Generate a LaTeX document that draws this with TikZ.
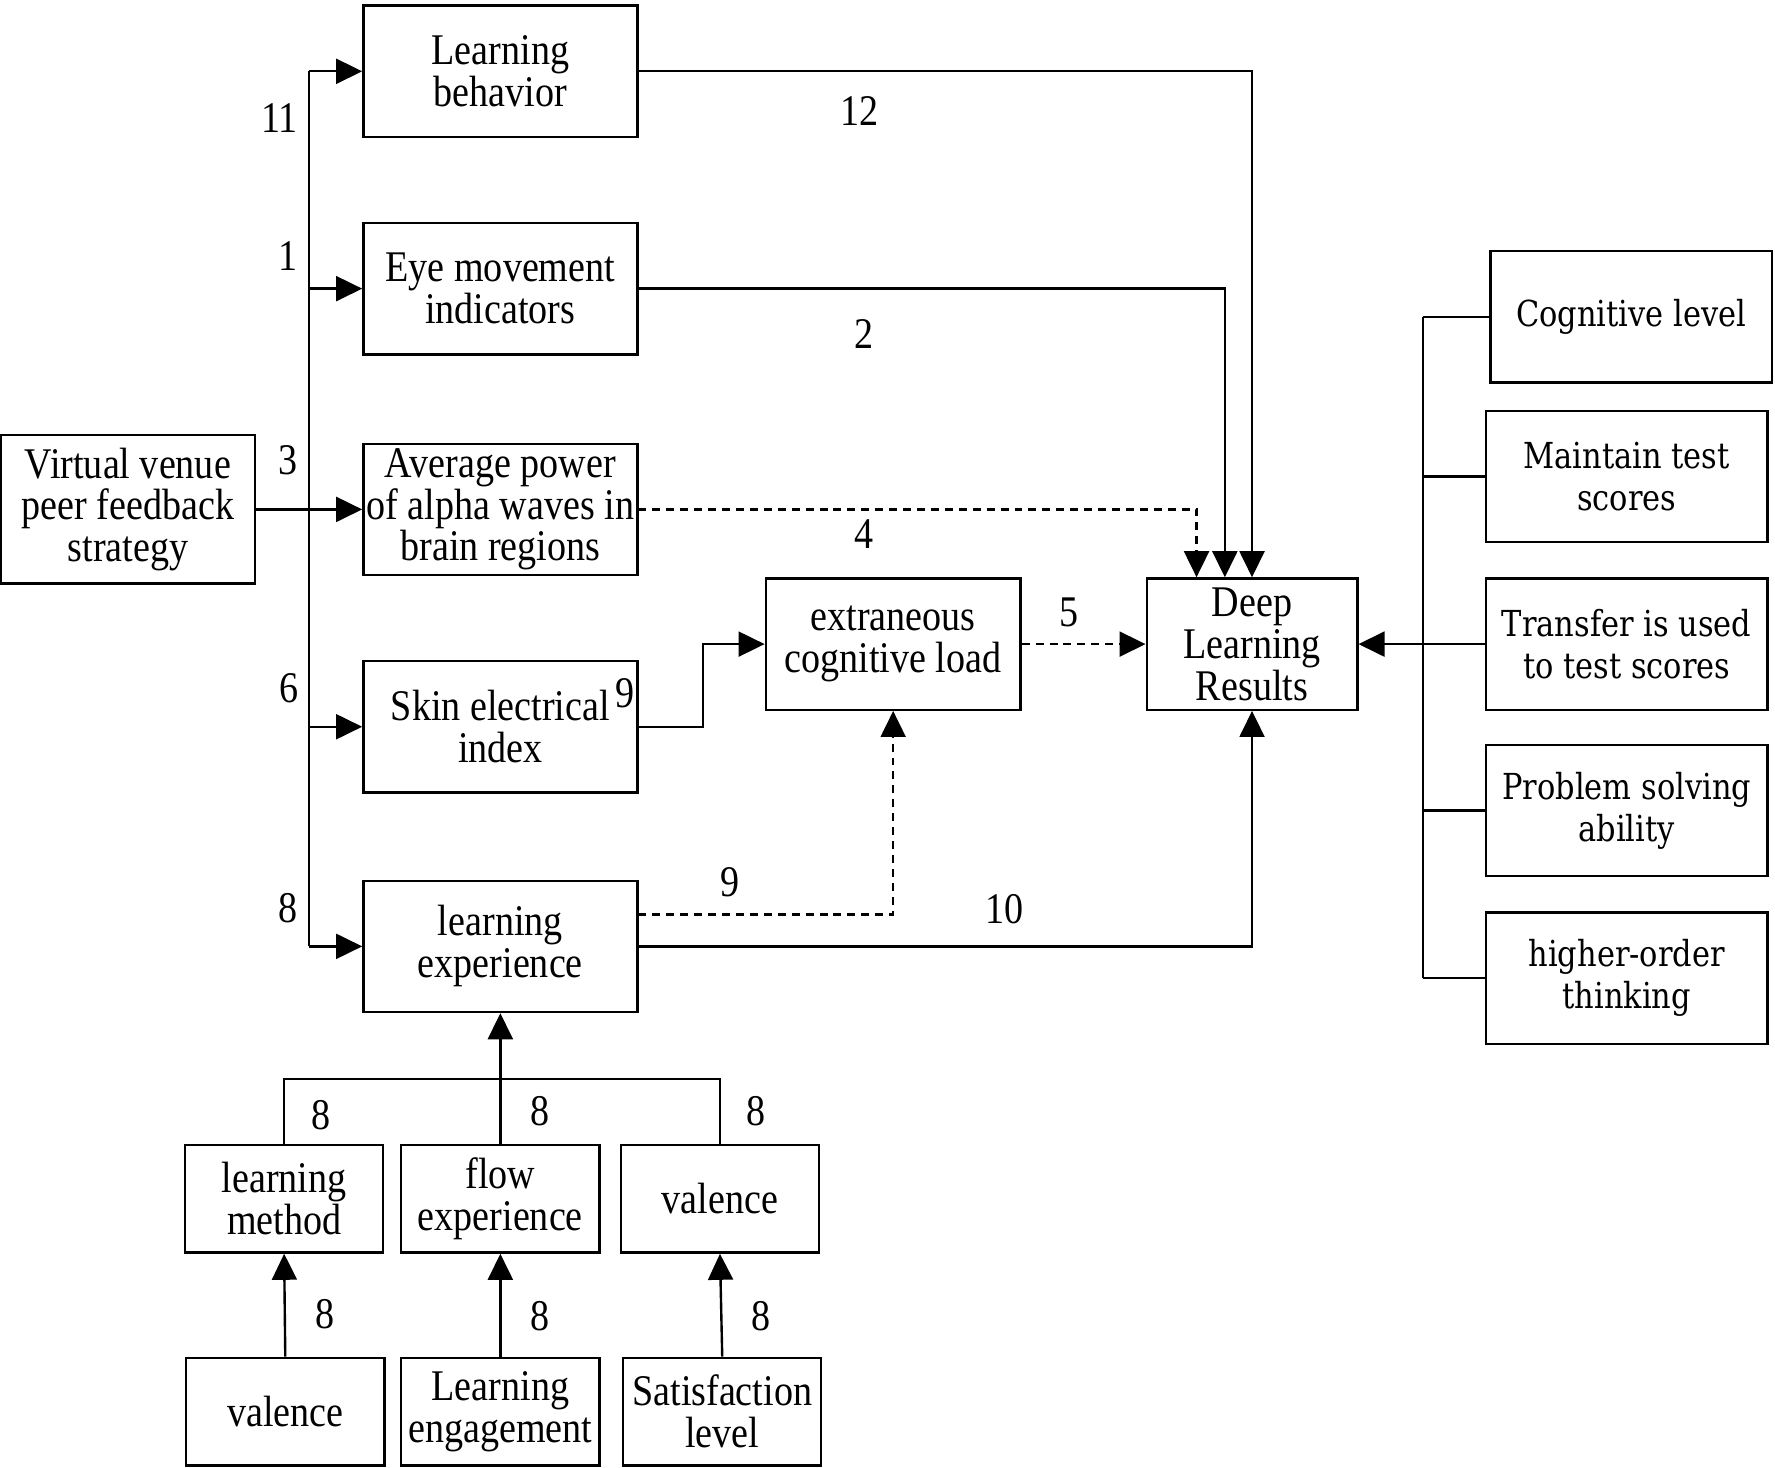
\documentclass[tikz,border=0pt]{standalone}
\usepackage{fontspec}
\setmainfont[FakeStretch=0.87]{Liberation Serif}
\newfontfamily\widefont[FakeStretch=0.85]{DejaVu Serif}
\usetikzlibrary{arrows.meta}
\tikzstyle{bx}=[draw=black,align=center,inner sep=0pt,minimum width=2.42cm,minimum height=1.16cm]
\tikzstyle{rbx}=[bx,minimum width=2.49cm,font=\widefont\fontsize{9}{10.5}\selectfont]
\tikzstyle{sbx}=[bx,minimum width=1.75cm,minimum height=.95cm]
\tikzstyle{arr}=[-{Triangle[length=2.3mm,width=2.2mm]}]
\tikzstyle{dsh}=[dash pattern=on 2pt off 1.5pt]

\begin{document}
\begin{tikzpicture}[line width=.6pt,font=\fontsize{11}{10.5}\selectfont]
\useasboundingbox (0,0) rectangle (15.68,12.96);
\node[bx,minimum width=2.24cm,minimum height=1.31cm] (vv) at (1.13,8.46) {Virtual venue\\peer feedback\\strategy};
\node[bx] (lb) at (4.42,12.33) {Learning\\behavior};
\node[bx] (eye) at (4.42,10.41) {Eye movement\\indicators};
\node[bx] (avg) at (4.42,8.46) {Average power\\of alpha waves in\\brain regions};
\node[bx] (skin) at (4.42,6.54) {Skin electrical\\index};
\node[bx] (le) at (4.42,4.60) {learning\\experience};
\node[bx,minimum width=2.25cm] (ecl) at (7.89,7.27) {extraneous\\cognitive load};
\node[bx,minimum width=1.86cm] (dlr) at (11.06,7.27) {Deep\\Learning\\Results};
\node[rbx] (cog) at (14.41,10.16) {Cognitive level};
\node[rbx] (mts) at (14.37,8.75) {Maintain test\\scores};
\node[rbx] (tr) at (14.37,7.27) {Transfer is used\\to test scores};
\node[rbx] (psa) at (14.37,5.80) {Problem solving\\ability};
\node[rbx] (hot) at (14.37,4.32) {higher-order\\thinking};
\node[sbx] (lm) at (2.51,2.37) {learning\\method};
\node[sbx] (fe) at (4.42,2.37) {flow\\experience};
\node[sbx] (va) at (6.36,2.37) {valence};
\node[sbx] (va2) at (2.52,.49) {valence};
\node[sbx] (eng) at (4.42,.49) {Learning\\engagement};
\node[sbx] (sat) at (6.38,.49) {Satisfaction\\level};
\coordinate (bus) at (2.73,0);
\coordinate (rbus) at (12.57,0);
\coordinate (bb) at (0,3.43);
% left bus
\draw (bus |- lb.west) -- (bus |- le.west);
\draw[arr] (vv.east) -- (avg.west);
\draw[arr] (bus |- lb.west) -- (lb.west);
\draw[arr] (bus |- eye.west) -- (eye.west);
\draw[arr] (bus |- skin.west) -- (skin.west);
\draw[arr] (bus |- le.west) -- (le.west);
% to deep learning results
\draw[arr] (lb.east) -| (dlr.north);
\draw[arr] (eye.east) -| ([xshift=-2.4mm]dlr.north);
\draw[arr,dsh] (avg.east) -| ([xshift=-4.9mm]dlr.north);
\draw[arr] (skin.east) -- ++(.57,0) |- (ecl.west);
\draw[arr,dsh] (ecl.east) -- (dlr.west);
\draw[arr,dsh] ([yshift=2.8mm]le.east) -| (ecl.south);
\draw[arr] (le.east) -| (dlr.south);
% right bus
\draw (rbus |- cog.west) -- (rbus |- hot.west);
\draw (rbus |- cog.west) -- (cog.west);
\draw (rbus |- mts.west) -- (mts.west);
\draw (rbus |- tr.west) -- (tr.west);
\draw (rbus |- psa.west) -- (psa.west);
\draw (rbus |- hot.west) -- (hot.west);
\draw[arr] (rbus |- tr.west) -- (dlr.east);
% bottom
\draw (lm.north) -- (lm.north |- bb) -- (va.north |- bb) -- (va.north);
\draw[arr] (fe.north) -- (le.south);
\draw[arr] (va2.north) -- (lm.south);
\draw[arr] (eng.north) -- (fe.south);
\draw[arr] (sat.north) -- (va.south);
% numbers
\draw (2.47,11.92) node{11}; \draw (2.54,10.70) node{1}; \draw (2.54,8.89) node{3}; \draw (2.55,6.88) node{6}; \draw (2.54,4.94) node{8};
\draw (7.59,11.98) node{12}; \draw (7.63,10.01) node{2}; \draw (7.63,8.24) node{4}; \draw (9.44,7.55) node{5};
\draw (5.52,6.84) node{9}; \draw (6.45,5.17) node{9}; \draw (8.87,4.93) node{10};
\draw (2.84,3.11) node{8}; \draw (4.77,3.14) node{8}; \draw (6.68,3.14) node{8};
\draw (2.87,1.35) node{8}; \draw (4.77,1.33) node{8}; \draw (6.72,1.33) node{8};
\end{tikzpicture}
\end{document}
